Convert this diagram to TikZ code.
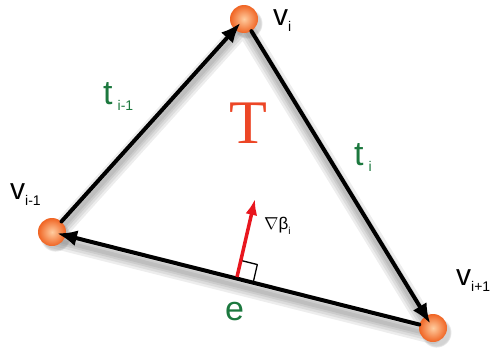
\documentclass[tikz,border=0pt]{standalone}
\usepackage{fontspec}
\setmainfont{Liberation Sans}
\newfontfamily\bigserif{Liberation Serif}
\usetikzlibrary{arrows.meta,shadows,calc}

\definecolor{edgegreen}{RGB}{28,120,62}
\definecolor{facered}{RGB}{236,70,38}
\definecolor{gradred}{RGB}{232,22,30}
\definecolor{ballorange}{RGB}{240,100,35}
\definecolor{balllight}{RGB}{255,205,160}

\newcommand{\lowsub}[1]{\raisebox{-6pt}{\fontsize{14}{14}\selectfont #1}}

\begin{document}
\begin{tikzpicture}[x=1pt, y=-1pt, line cap=round, line join=round]

% --- Styles ---
\tikzset{
    vertex/.style={
        circle,
        inner sep=0pt,
        minimum size=28pt,
        inner color=balllight,
        outer color=ballorange,
        circular drop shadow={shadow xshift=3pt, shadow yshift=-4pt, opacity=0.35}
    },
    sidearrow/.style={
        draw=black,
        line width=4pt,
        -{Latex[length=20pt, width=16pt]},
        shorten >=-9pt
    },
    sideshadow/.style={
        draw=black,
        opacity=0.07
    },
    vlabel/.style={
        anchor=base west,
        inner sep=0pt,
        font=\fontsize{30}{30}\selectfont
    },
    tlabel/.style={
        anchor=base west,
        inner sep=0pt,
        text=edgegreen,
        font=\fontsize{34}{34}\selectfont
    },
    gradarrow/.style={
        draw=gradred,
        line width=3.5pt,
        line cap=butt,
        -{Latex[length=16pt, width=12pt]}
    }
}

\useasboundingbox (0,0) rectangle (493,351);

% --- Hoekpunten ---
\coordinate (svi)  at (244,26);
\coordinate (svim) at (52,239);
\coordinate (svip) at (433,335);

% --- Schaduw van de zijden ---
\foreach \w in {18,13,8,4} {
    \draw[sideshadow, line width=\w pt] (svim) -- (svi) -- (svip) -- cycle;
}

\node[vertex] (vi)  at (244,19)  {};
\node[vertex] (vim) at (52,232)  {};
\node[vertex] (vip) at (433,328) {};

% --- Zijden van T ---
\draw[sidearrow] (vim) -- (vi);
\draw[sidearrow] (vi) -- (vip);
\draw[sidearrow] (vip) -- (vim);

% --- Labels ---
\node[vlabel] (lvi)  at (273,25)  {v\lowsub{i}};
\node[vlabel] (lvim) at (10,199)  {v\lowsub{i-1}};
\node[vlabel] (lvip) at (456,285) {v\lowsub{i+1}};

\node[tlabel] (ltim) at (103,104) {t\hspace{5pt}\lowsub{i-1}};
\node[tlabel] (lti)  at (354,165) {t\hspace{5pt}\lowsub{i}};
\node[tlabel] (le)   at (225,320) {e};

\node[anchor=base west, inner sep=0pt, text=facered,
      font=\bigserif\fontsize{62}{62}\selectfont] (lT) at (229,143) {T};

% --- Gradient loodrecht op e ---
\coordinate (gbase) at (237,277);
\coordinate (gtip)  at (255,199);

\draw[black, line width=1.3pt, line cap=butt]
    ($(gbase)!17pt!(gtip)$) -- ++(16.5,4.1) -- ($(gbase)!17pt!(vip)$);

\draw[gradarrow] (gbase) -- (gtip);

\node[anchor=base west, inner sep=0pt, font=\fontsize{17}{17}\selectfont] (lgrad)
    at (264,229) {$\nabla$β\raisebox{-5pt}{\fontsize{10}{10}\selectfont i}};

\end{tikzpicture}
\end{document}
